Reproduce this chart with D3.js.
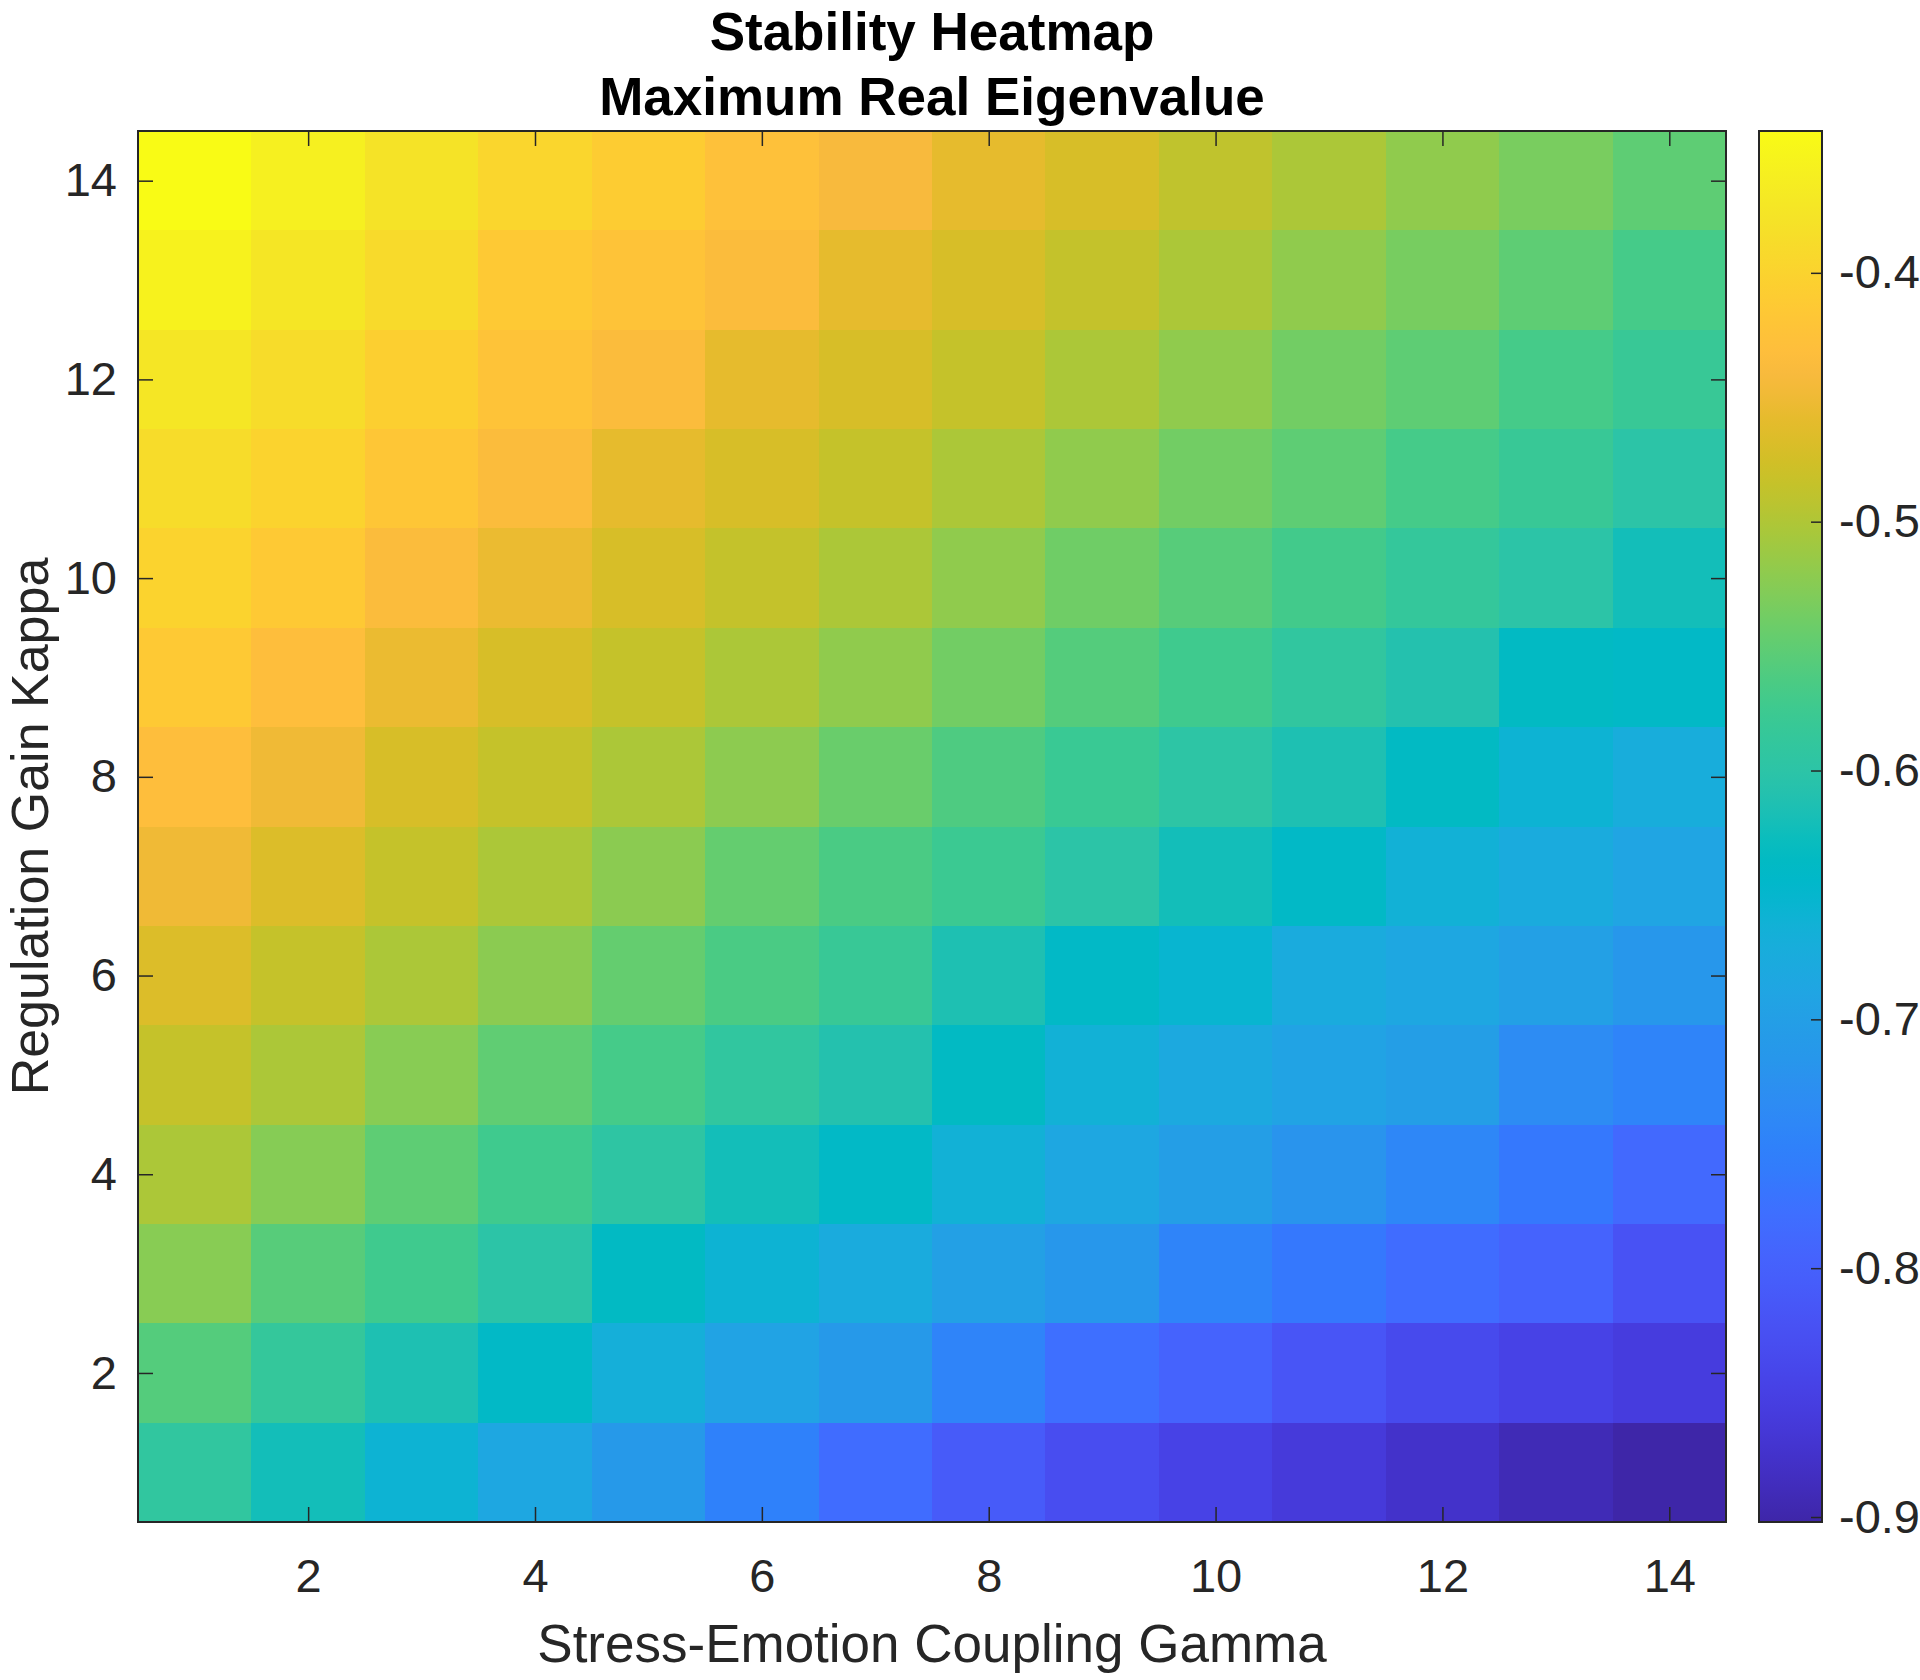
<!DOCTYPE html>
<html lang="en">
<head>
    <meta charset="UTF-8">
    <title>Stability Heatmap - Maximum Real Eigenvalue</title>
    <script src="https://d3js.org/d3.v7.min.js"></script>
    <style>
        body { margin: 0; background: #fff; }
        text { font-family: "Liberation Sans", Arial, Helvetica, sans-serif; fill: #262626; }
        .title { font-weight: bold; fill: #000; }
    </style>
</head>
<body>
    <svg width="1920" height="1680"></svg>
    <script>
        // gamma along x, kappa along y
        const gammaValues = [1, 2, 3, 4, 5, 6, 7, 8, 9, 10, 11, 12, 13, 14];
        // rows below are listed from the top of the picture down
        const kappaRows = [14, 13, 12, 11, 10, 9, 8, 7, 6, 5, 4, 3, 2, 1];
        const eigenRows = [
            [-0.343, -0.360, -0.378, -0.396, -0.409, -0.427, -0.440, -0.458, -0.471, -0.489, -0.502, -0.520, -0.534, -0.551],
            [-0.356, -0.374, -0.391, -0.414, -0.423, -0.436, -0.458, -0.471, -0.486, -0.502, -0.520, -0.535, -0.551, -0.569],
            [-0.374, -0.387, -0.405, -0.423, -0.436, -0.458, -0.471, -0.485, -0.502, -0.520, -0.538, -0.551, -0.569, -0.582],
            [-0.387, -0.400, -0.418, -0.436, -0.458, -0.471, -0.485, -0.502, -0.520, -0.538, -0.551, -0.569, -0.582, -0.600],
            [-0.400, -0.414, -0.436, -0.454, -0.471, -0.486, -0.502, -0.520, -0.540, -0.556, -0.571, -0.587, -0.600, -0.622],
            [-0.414, -0.431, -0.454, -0.471, -0.485, -0.502, -0.520, -0.538, -0.558, -0.574, -0.591, -0.609, -0.636, -0.640],
            [-0.431, -0.449, -0.471, -0.485, -0.502, -0.522, -0.544, -0.562, -0.580, -0.598, -0.614, -0.636, -0.658, -0.671],
            [-0.449, -0.467, -0.485, -0.502, -0.523, -0.547, -0.565, -0.578, -0.600, -0.622, -0.640, -0.662, -0.676, -0.689],
            [-0.467, -0.485, -0.502, -0.523, -0.547, -0.565, -0.582, -0.614, -0.640, -0.653, -0.676, -0.685, -0.698, -0.716],
            [-0.485, -0.502, -0.525, -0.550, -0.569, -0.591, -0.609, -0.636, -0.662, -0.680, -0.693, -0.702, -0.733, -0.747],
            [-0.502, -0.526, -0.551, -0.574, -0.596, -0.622, -0.640, -0.662, -0.685, -0.702, -0.720, -0.742, -0.765, -0.787],
            [-0.525, -0.556, -0.574, -0.600, -0.636, -0.658, -0.676, -0.698, -0.716, -0.747, -0.765, -0.782, -0.796, -0.822],
            [-0.558, -0.587, -0.614, -0.640, -0.667, -0.693, -0.711, -0.747, -0.778, -0.796, -0.818, -0.836, -0.847, -0.858],
            [-0.591, -0.622, -0.658, -0.685, -0.711, -0.751, -0.782, -0.809, -0.831, -0.847, -0.862, -0.876, -0.892, -0.902]
        ];
        const xTicks = [2, 4, 6, 8, 10, 12, 14];
        const yTicks = [2, 4, 6, 8, 10, 12, 14];
        const colorTicks = [-0.9, -0.8, -0.7, -0.6, -0.5, -0.4];

        // parula colormap (64 steps)
        const parula = [
            [0.2422,0.1504,0.6603],[0.2504,0.1650,0.7076],[0.2578,0.1818,0.7511],[0.2647,0.1978,0.7952],
            [0.2706,0.2147,0.8364],[0.2751,0.2342,0.8710],[0.2783,0.2559,0.8991],[0.2803,0.2782,0.9221],
            [0.2813,0.3006,0.9414],[0.2810,0.3228,0.9579],[0.2795,0.3447,0.9717],[0.2760,0.3667,0.9829],
            [0.2699,0.3892,0.9906],[0.2602,0.4123,0.9952],[0.2440,0.4358,0.9988],[0.2206,0.4603,0.9973],
            [0.1963,0.4847,0.9892],[0.1834,0.5074,0.9798],[0.1786,0.5289,0.9682],[0.1764,0.5499,0.9520],
            [0.1687,0.5703,0.9359],[0.1540,0.5902,0.9218],[0.1460,0.6091,0.9079],[0.1380,0.6276,0.8973],
            [0.1248,0.6459,0.8883],[0.1113,0.6635,0.8763],[0.0952,0.6798,0.8598],[0.0689,0.6948,0.8394],
            [0.0297,0.7082,0.8163],[0.0036,0.7203,0.7917],[0.0067,0.7312,0.7660],[0.0433,0.7411,0.7394],
            [0.0964,0.7500,0.7120],[0.1408,0.7584,0.6842],[0.1717,0.7670,0.6554],[0.1938,0.7758,0.6251],
            [0.2161,0.7843,0.5923],[0.2470,0.7918,0.5567],[0.2906,0.7973,0.5188],[0.3406,0.8008,0.4789],
            [0.3909,0.8029,0.4354],[0.4456,0.8024,0.3909],[0.5044,0.7993,0.3480],[0.5616,0.7942,0.3045],
            [0.6174,0.7876,0.2612],[0.6720,0.7793,0.2227],[0.7242,0.7698,0.1910],[0.7738,0.7598,0.1646],
            [0.8203,0.7498,0.1535],[0.8634,0.7406,0.1596],[0.9035,0.7330,0.1774],[0.9393,0.7288,0.2100],
            [0.9728,0.7298,0.2394],[0.9956,0.7434,0.2371],[0.9970,0.7659,0.2199],[0.9952,0.7893,0.2028],
            [0.9892,0.8136,0.1885],[0.9786,0.8386,0.1766],[0.9676,0.8639,0.1643],[0.9610,0.8890,0.1537],
            [0.9597,0.9135,0.1423],[0.9628,0.9373,0.1265],[0.9691,0.9606,0.1064],[0.9769,0.9839,0.0805]
        ].map(c => d3.rgb(c[0] * 255, c[1] * 255, c[2] * 255).formatHex());

        const svg = d3.select("svg");

        const plot = { left: 138, right: 1726, top: 131, bottom: 1522 };
        const bar = { left: 1759, right: 1822 };

        const cells = [];
        eigenRows.forEach((row, i) => {
            row.forEach((v, j) => {
                cells.push({ gamma: gammaValues[j], kappa: kappaRows[i], value: v });
            });
        });

        const x = d3.scaleLinear().domain([0.5, 14.5]).range([plot.left, plot.right]);
        const y = d3.scaleLinear().domain([0.5, 14.5]).range([plot.bottom, plot.top]);

        const extent = d3.extent(cells, d => d.value);
        const color = d3.scaleSequential(d3.piecewise(d3.interpolateRgb, parula)).domain(extent);

        // heatmap cells
        svg.append("g")
            .selectAll("rect")
            .data(cells)
            .enter().append("rect")
            .attr("x", d => x(d.gamma - 0.5))
            .attr("y", d => y(d.kappa + 0.5))
            .attr("width", x(1.5) - x(0.5) + 0.6)
            .attr("height", y(0.5) - y(1.5) + 0.6)
            .attr("fill", d => color(d.value))
            .attr("shape-rendering", "crispEdges");

        const tickLen = 15;

        svg.append("g")
            .attr("transform", `translate(0,${plot.bottom})`)
            .call(d3.axisBottom(x).tickValues(xTicks).tickSizeInner(-tickLen).tickSizeOuter(0).tickPadding(37));
        svg.append("g")
            .attr("transform", `translate(0,${plot.top})`)
            .call(d3.axisTop(x).tickValues(xTicks).tickSizeInner(-tickLen).tickSizeOuter(0).tickFormat(""));

        svg.append("g")
            .attr("transform", `translate(${plot.left},0)`)
            .call(d3.axisLeft(y).tickValues(yTicks).tickSizeInner(-tickLen).tickSizeOuter(0).tickPadding(21));
        svg.append("g")
            .attr("transform", `translate(${plot.right},0)`)
            .call(d3.axisRight(y).tickValues(yTicks).tickSizeInner(-tickLen).tickSizeOuter(0).tickFormat(""));

        svg.selectAll(".domain").remove();
        svg.selectAll(".tick line").attr("stroke", "#262626").attr("stroke-width", 1.5);
        svg.selectAll(".tick text")
            .attr("fill", "#262626")
            .attr("font-size", 47)
            .attr("font-family", "Liberation Sans, Arial, Helvetica, sans-serif");

        // axes box
        svg.append("rect")
            .attr("x", plot.left)
            .attr("y", plot.top)
            .attr("width", plot.right - plot.left)
            .attr("height", plot.bottom - plot.top)
            .attr("fill", "none")
            .attr("stroke", "#262626")
            .attr("stroke-width", 2);

        // colorbar
        const cy = d3.scaleLinear().domain(extent).range([plot.bottom, plot.top]);

        const grad = svg.append("defs").append("linearGradient")
            .attr("id", "parulaGrad")
            .attr("x1", 0).attr("y1", 1)
            .attr("x2", 0).attr("y2", 0);
        grad.selectAll("stop")
            .data(parula)
            .enter().append("stop")
            .attr("offset", (d, i) => i / (parula.length - 1))
            .attr("stop-color", d => d);

        svg.append("rect")
            .attr("x", bar.left)
            .attr("y", plot.top)
            .attr("width", bar.right - bar.left)
            .attr("height", plot.bottom - plot.top)
            .attr("fill", "url(#parulaGrad)")
            .attr("stroke", "#262626")
            .attr("stroke-width", 2);

        const cAxis = svg.append("g")
            .attr("transform", `translate(${bar.right},0)`)
            .call(d3.axisRight(cy).tickValues(colorTicks).tickSizeInner(-11).tickSizeOuter(0)
                .tickPadding(17).tickFormat(d => d.toFixed(1)));
        cAxis.select(".domain").remove();
        cAxis.selectAll(".tick line").attr("stroke", "#262626").attr("stroke-width", 1.5);
        cAxis.selectAll(".tick text")
            .attr("fill", "#262626")
            .attr("font-size", 47)
            .attr("font-family", "Liberation Sans, Arial, Helvetica, sans-serif");

        // labels
        const midX = (plot.left + plot.right) / 2;
        const midY = (plot.top + plot.bottom) / 2;

        svg.append("text")
            .attr("x", midX)
            .attr("y", 1662)
            .attr("text-anchor", "middle")
            .style("font-size", "53px")
            .text("Stress-Emotion Coupling Gamma");

        svg.append("text")
            .attr("transform", `translate(48,${midY}) rotate(-90)`)
            .attr("text-anchor", "middle")
            .style("font-size", "52px")
            .text("Regulation Gain Kappa");

        svg.append("text")
            .attr("class", "title")
            .attr("x", midX)
            .attr("y", 50)
            .attr("text-anchor", "middle")
            .style("font-size", "53px")
            .text("Stability Heatmap");

        svg.append("text")
            .attr("class", "title")
            .attr("x", midX)
            .attr("y", 115)
            .attr("text-anchor", "middle")
            .style("font-size", "53px")
            .text("Maximum Real Eigenvalue");
    </script>
</body>
</html>
